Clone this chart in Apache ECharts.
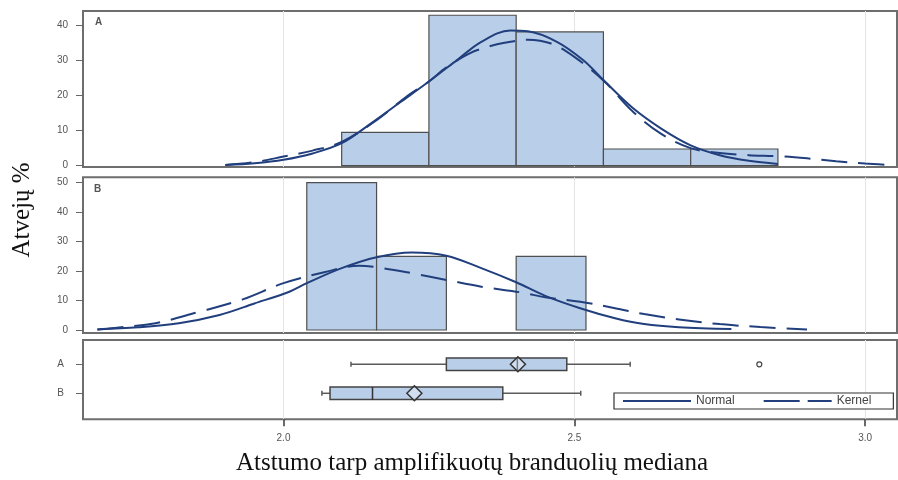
<!DOCTYPE html>
<html>
<head>
<meta charset="utf-8">
<script src="https://cdn.jsdelivr.net/npm/echarts@6/dist/echarts.min.js"></script>
<style>
  html, body { margin: 0; padding: 0; background: #fff; }
  #chart { width: 898px; height: 480px; }
</style>
</head>
<body>
<div id="chart"></div>
<script>
// Histogram bins per group: [from, to, percent of cases]
const binsA = [[2.10, 2.25, 9.52], [2.25, 2.40, 42.86], [2.40, 2.55, 38.10], [2.55, 2.70, 4.76], [2.70, 2.85, 4.76]];
const binsB = [[2.04, 2.16, 50], [2.16, 2.28, 25], [2.40, 2.52, 25]];

// Fitted density curves, scaled to percent: [x, percent]
const normalA = [[1.90, 0.2], [1.95, 0.7], [2.00, 1.7], [2.05, 3.5], [2.10, 6.4], [2.15, 12.0], [2.20, 18.0],
  [2.25, 24.0], [2.30, 30.3], [2.34, 35.3], [2.39, 38.5], [2.42, 38.3], [2.47, 35.3], [2.515, 30.1],
  [2.55, 24.4], [2.60, 16.5], [2.65, 10.5], [2.70, 5.8], [2.75, 3.0], [2.80, 1.4], [2.85, 0.5]];
const kernelA = [[1.90, 0.2], [1.95, 1.0], [2.00, 2.6], [2.05, 4.3], [2.10, 6.8], [2.16, 13.0], [2.21, 19.5],
  [2.25, 24.0], [2.28, 28.0], [2.32, 32.0], [2.35, 33.8], [2.38, 35.0], [2.42, 35.9], [2.46, 34.8],
  [2.50, 31.0], [2.55, 24.3], [2.60, 15.5], [2.65, 9.0], [2.70, 5.0], [2.75, 3.6], [2.80, 3.0],
  [2.85, 2.7], [2.90, 2.1], [2.95, 1.3], [3.00, 0.6], [3.04, 0.2]];
const normalB = [[1.68, 0.2], [1.75, 0.9], [1.82, 2.3], [1.89, 5.1], [1.95, 9.0], [2.01, 13.0], [2.04, 15.9],
  [2.10, 21.0], [2.16, 24.7], [2.22, 26.3], [2.28, 25.2], [2.34, 21.0], [2.40, 16.2], [2.45, 11.6],
  [2.51, 7.4], [2.57, 4.0], [2.62, 2.0], [2.68, 0.9], [2.77, 0.3]];
const kernelB = [[1.68, 0.2], [1.71, 0.7], [1.78, 2.3], [1.85, 5.9], [1.93, 10.4], [2.00, 15.9], [2.07, 19.6],
  [2.13, 21.8], [2.17, 21.0], [2.22, 19.3], [2.28, 17.0], [2.34, 14.7], [2.41, 12.7], [2.45, 11.1],
  [2.51, 9.6], [2.57, 7.4], [2.62, 5.4], [2.68, 3.6], [2.75, 2.0], [2.82, 1.0], [2.90, 0.2]];

// Box plot summaries per group: [min, Q1, median, Q3, max]
const groups = ['A', 'B'];
const boxStats = [[2.116, 2.280, 2.402, 2.487, 2.596], [2.066, 2.080, 2.153, 2.377, 2.511]];
const means = [2.403, 2.225];
const outliers = [[2.818, 0]]; // [value, group index]

// Axis ticks and texts
const xTicks = [2.0, 2.5, 3.0];
const yTicksA = [0, 10, 20, 30, 40];
const yTicksB = [0, 10, 20, 30, 40, 50];
const xTitle = 'Atstumo tarp amplifikuotų branduolių mediana';
const yTitle = 'Atvejų %';
const legendNames = ['Normal', 'Kernel'];

const X_MIN = 1.6553, X_MAX = 3.0547;
const BAR_FILL = '#b9cee8';
const EDGE = '#4f4f4f';
const CURVE = '#213f7d';
const LABEL_FONT = '"Liberation Sans", Arial, sans-serif';
const SERIF = '"Liberation Serif", "Times New Roman", serif';

const chart = echarts.init(document.getElementById('chart'), null, { renderer: 'canvas' });

function histItem(params, api) {
  const top = api.coord([api.value(0), api.value(2)]);
  const base = api.coord([api.value(1), 0]);
  return {
    type: 'rect',
    shape: { x: top[0], y: top[1], width: base[0] - top[0], height: base[1] - top[1] },
    style: { fill: BAR_FILL, stroke: EDGE, lineWidth: 1.2 }
  };
}

function boxItem(params, api) {
  const row = api.value(0);
  const pt = (d) => api.coord([api.value(d), row]);
  const pMin = pt(1), pQ1 = pt(2), pMed = pt(3), pQ3 = pt(4), pMax = pt(5);
  const y = pMin[1], h = 6.3, cap = 2.5;
  const whisker = { stroke: '#5a5a5a', lineWidth: 1.5 };
  return {
    type: 'group',
    children: [
      { type: 'line', shape: { x1: pMin[0], y1: y, x2: pQ1[0], y2: y }, style: whisker },
      { type: 'line', shape: { x1: pQ3[0], y1: y, x2: pMax[0], y2: y }, style: whisker },
      { type: 'line', shape: { x1: pMin[0], y1: y - cap, x2: pMin[0], y2: y + cap }, style: whisker },
      { type: 'line', shape: { x1: pMax[0], y1: y - cap, x2: pMax[0], y2: y + cap }, style: whisker },
      { type: 'rect', shape: { x: pQ1[0], y: y - h, width: pQ3[0] - pQ1[0], height: 2 * h },
        style: { fill: BAR_FILL, stroke: '#444', lineWidth: 1.5 } },
      { type: 'line', shape: { x1: pMed[0], y1: y - h, x2: pMed[0], y2: y + h },
        style: { stroke: '#333', lineWidth: 1.5 } }
    ]
  };
}

const frame = { show: true, borderColor: '#6e6e6e', borderWidth: 2, backgroundColor: 'transparent' };

function xAxisFor(i) {
  const bottom = i === 2;
  return {
    gridIndex: i, type: 'value', min: X_MIN, max: X_MAX, position: 'bottom',
    minInterval: 0.5, maxInterval: 0.5,
    axisLine: { show: bottom, onZero: false, lineStyle: { color: 'rgba(0,0,0,0)' } },
    axisTick: { show: bottom, inside: false, customValues: xTicks, length: 7,
      lineStyle: { color: '#444', width: 1.6 } },
    axisLabel: {
      show: bottom, customValues: xTicks,
      formatter: (v) => Number(v).toFixed(1), margin: 14, fontSize: 10, color: '#555', fontFamily: LABEL_FONT
    },
    splitLine: { show: true, lineStyle: { color: '#e4e4e4', width: 1 } }
  };
}

function yAxisFor(i, min, max, ticks, fmt, margin) {
  return {
    gridIndex: i, type: 'value', min: min, max: max, inverse: i === 2,
    axisLine: { show: false, onZero: false },
    axisTick: { show: true, customValues: ticks, length: 7, lineStyle: { color: '#666' } },
    axisLabel: {
      customValues: ticks, formatter: fmt, margin: margin, fontSize: 10,
      color: '#555', fontFamily: LABEL_FONT
    },
    splitLine: { show: false }
  };
}

function curve(name, data, grid, dashed) {
  return {
    type: 'line', name: name, data: data, xAxisIndex: grid, yAxisIndex: grid,
    smooth: 0.35, symbol: 'none', z: 4, clip: false,
    lineStyle: { color: CURVE, width: 2, type: dashed ? [26, 11] : 'solid' },
    itemStyle: { color: CURVE }
  };
}

const option = {
  animation: false,
  backgroundColor: '#fff',
  grid: [
    Object.assign({ left: 83, top: 11, width: 814, height: 156 }, frame),
    Object.assign({ left: 83, top: 177.3, width: 814, height: 155.7 }, frame),
    Object.assign({ left: 83, top: 340, width: 814, height: 79.3 }, frame)
  ],
  xAxis: [xAxisFor(0), xAxisFor(1), xAxisFor(2)],
  yAxis: [
    yAxisFor(0, -0.37, 44.07, yTicksA, (v) => String(v), 15),
    yAxisFor(1, -1.02, 51.83, yTicksB, (v) => String(v), 15),
    yAxisFor(2, -0.838, 1.897, [0, 1], (v) => groups[Math.round(v)], 19)
  ],
  legend: {
    data: [
      { name: legendNames[0] },
      { name: legendNames[1], lineStyle: { type: [36, 8] } }
    ],
    left: 614, top: 393,
    orient: 'horizontal',
    itemWidth: 68, itemHeight: 14, itemGap: 28,
    padding: [2, 22, 2, 8],
    backgroundColor: '#fff',
    borderColor: '#333', borderWidth: 1.2,
    itemStyle: { opacity: 0, borderWidth: 0 },
    textStyle: { fontSize: 12, color: '#444', fontFamily: LABEL_FONT },
    selectedMode: false
  },
  graphic: [
    { type: 'text', x: 95, y: 17, style: { text: groups[0], font: 'bold 10px ' + LABEL_FONT, fill: '#555' } },
    { type: 'text', x: 94, y: 184, style: { text: groups[1], font: 'bold 10px ' + LABEL_FONT, fill: '#555' } },
    { type: 'text', x: 472, y: 463,
      style: { text: xTitle, font: '25px ' + SERIF, fill: '#111', textAlign: 'center', textVerticalAlign: 'middle' } },
    { type: 'text', x: 22, y: 210, rotation: Math.PI / 2,
      style: { text: yTitle, font: '25px ' + SERIF, fill: '#111', textAlign: 'center', textVerticalAlign: 'middle' } }
  ],
  series: [
    { type: 'custom', name: 'histA', xAxisIndex: 0, yAxisIndex: 0, data: binsA,
      encode: { x: [0, 1], y: 2 }, renderItem: histItem, z: 2 },
    { type: 'custom', name: 'histB', xAxisIndex: 1, yAxisIndex: 1, data: binsB,
      encode: { x: [0, 1], y: 2 }, renderItem: histItem, z: 2 },
    curve(legendNames[0], normalA, 0, false),
    curve(legendNames[1], kernelA, 0, true),
    curve(legendNames[0], normalB, 1, false),
    curve(legendNames[1], kernelB, 1, true),
    { type: 'custom', name: 'box', xAxisIndex: 2, yAxisIndex: 2,
      data: boxStats.map((s, i) => [i].concat(s)),
      encode: { x: [1, 2, 3, 4, 5], y: 0 }, renderItem: boxItem, z: 2 },
    { type: 'scatter', name: 'mean', xAxisIndex: 2, yAxisIndex: 2,
      data: means.map((m, i) => [m, i]), symbol: 'diamond', symbolSize: [15, 15], z: 5,
      itemStyle: { color: 'rgba(255,255,255,0.35)', borderColor: '#333', borderWidth: 1.5, opacity: 1 } },
    { type: 'scatter', name: 'outlier', xAxisIndex: 2, yAxisIndex: 2,
      data: outliers, symbol: 'circle', symbolSize: 5, z: 5,
      itemStyle: { color: '#fff', borderColor: '#444', borderWidth: 1.2, opacity: 1 } }
  ]
};

chart.setOption(option);
</script>
</body>
</html>
